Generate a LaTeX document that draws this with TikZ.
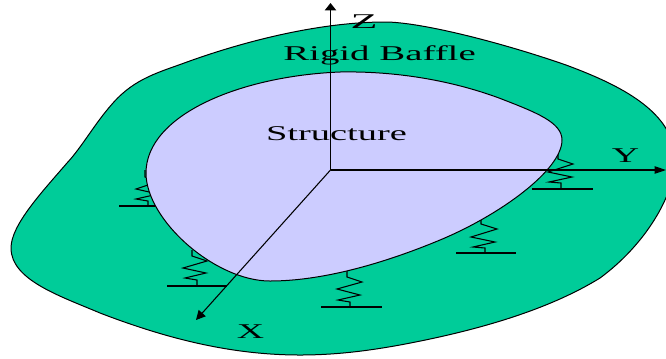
\documentclass[tikz,border=0pt]{standalone}
\usepackage{graphicx}
\usepackage{fontspec}
\setmainfont{Liberation Serif}
\usetikzlibrary{arrows.meta}
\definecolor{baffle}{HTML}{00CC99}
\definecolor{struct}{HTML}{CCCCFF}
\newcommand{\widelab}[2][1.8]{\scalebox{#1}[1]{#2}}
\tikzset{
  outline/.style={draw=black,line width=0.75pt,line join=round},
  springline/.style={draw=black,line width=0.8pt,line join=miter},
  axisline/.style={draw=black,line width=0.8pt},
  lab/.style={font=\fontsize{15.75pt}{16pt}\selectfont,inner sep=0pt,text=black}
}
\begin{document}
\begin{tikzpicture}[x=0.75pt,y=-0.75pt]
\useasboundingbox (0,0) rectangle (666,358);
\clip (0,0) rectangle (666,358);
\fill[white] (0,0) rectangle (666,358);
% rigid baffle
\draw[outline,fill=baffle] (385,22)
 .. controls (420,22) and (500,42) .. (566,65)
 .. controls (620,85) and (675,112) .. (675,160)
 .. controls (675,195) and (645,245) .. (600,278)
 .. controls (545,312) and (470,332) .. (400,345)
 .. controls (367,351) and (335,355) .. (300,355)
 .. controls (230,355) and (165,338) .. (100,313)
 .. controls (60,296) and (11,280) .. (11,248)
 .. controls (11,225) and (42,192) .. (67,163)
 .. controls (82,147) and (95,123) .. (113,103)
 .. controls (135,78) and (160,72) .. (187,62)
 .. controls (245,41) and (320,22) .. (385,22) -- cycle;
% springs
\draw[springline] (347,268) -- (347,277) -- (362,282) -- (337,289) -- (360,295) -- (338,300) -- (350,302) -- (350,307);
\draw[springline] (321,307) -- (382,307);
\draw[springline] (192,250) -- (192,256) -- (207,261) -- (183,268) -- (206,273) -- (185,278) -- (197,280) -- (197,286);
\draw[springline] (167,286) -- (227,286);
\draw[springline] (145,170) -- (145,177) -- (160,181) -- (136,189) -- (158,194) -- (136,199) -- (148,201) -- (148,206);
\draw[springline] (119,206) -- (180,206);
\draw[springline] (481,216) -- (481,224) -- (497,229) -- (471,237) -- (495,242) -- (473,247) -- (485,248) -- (485,253);
\draw[springline] (456,253) -- (516,253);
\draw[springline] (558,150) -- (558,159) -- (573,164) -- (548,172) -- (572,177) -- (549,182) -- (561,183) -- (561,189);
\draw[springline] (532,189) -- (593,189);
% structure
\draw[outline,fill=struct] (340,72)
 .. controls (395,71) and (450,80) .. (499,98)
 .. controls (535,112) and (562,122) .. (562,140)
 .. controls (562,170) and (500,215) .. (440,240)
 .. controls (380,265) and (320,281) .. (270,281)
 .. controls (215,281) and (146,220) .. (146,173)
 .. controls (146,115) and (240,76) .. (340,72) -- cycle;
% axes
\coordinate (O) at (330.5,170);
\coordinate (Zt) at (330.5,3);
\coordinate (Yt) at (666,170);
\coordinate (Xt) at (196,320);
\draw[axisline,-{Triangle[length=5.5pt,width=8.5pt]}] (O) -- (Zt);
\draw[axisline,-{Triangle[length=8.5pt,width=5.5pt]}] (O) -- (Yt);
\draw[axisline,-{Triangle[length=7pt,width=7pt]}] (O) -- (Xt);
% labels
\node[lab,anchor=base] (zlab) at (364,28) {\widelab[2.1]{Z}};
\node[lab,anchor=base] (ylab) at (625.5,162) {\widelab{Y}};
\node[lab,anchor=base] (xlab) at (250.5,338) {\widelab{X}};
\node[lab,anchor=base] (baf) at (379.5,60) {\widelab[1.85]{Rigid Baffle}};
\node[lab,anchor=base] (str) at (336.5,140) {\widelab[1.83]{Structure}};
\end{tikzpicture}
\end{document}
